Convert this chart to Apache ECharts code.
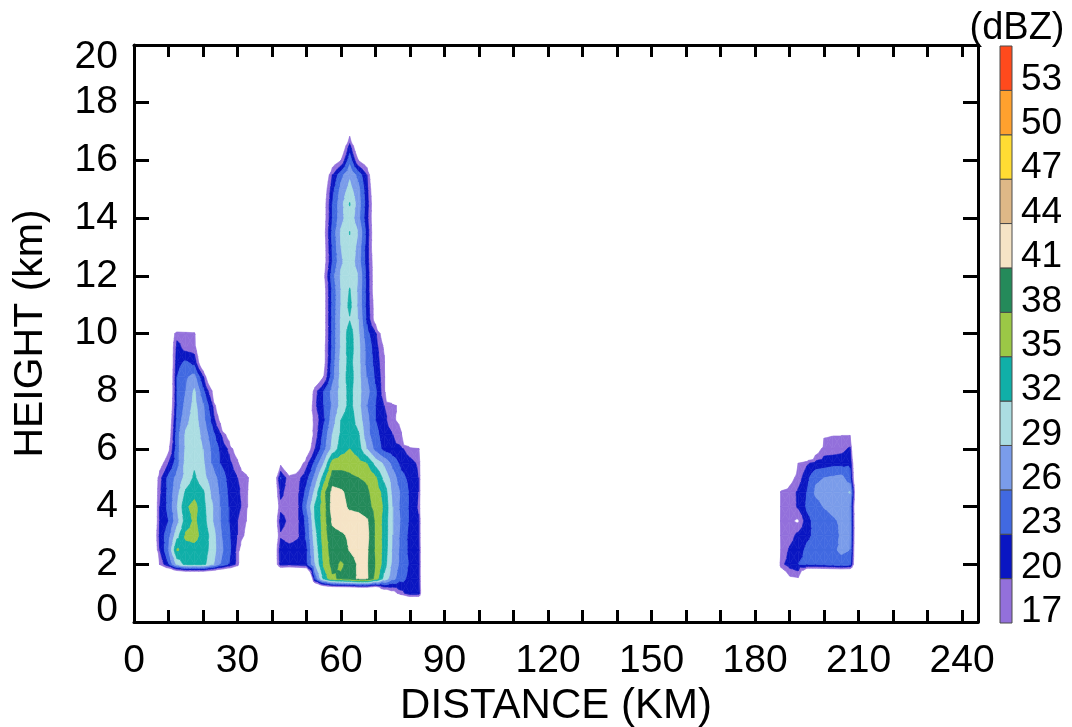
<!DOCTYPE html>
<html>
<head>
<meta charset="utf-8">
<script src="https://cdn.jsdelivr.net/npm/echarts@6/dist/echarts.min.js"></script>
<style>
  html, body { margin: 0; padding: 0; background: #ffffff; }
  #chart { width: 1072px; height: 727px; }
</style>
</head>
<body>
<div id="chart"></div>
<script>
// Reflectivity band edges (dBZ) and the colour of each band
const levels = [17, 20, 23, 26, 29, 32, 35, 38, 41, 44, 47, 50, 53, 56];
const bandColors = ['#9370DB', '#0A16C2', '#4169E1', '#7A9CEA', '#ABDDE2', '#10AFA8',
                    '#9BC846', '#248A5A', '#F5E4C6', '#DEB887', '#FFDC33', '#FFA12E', '#FF4A1C'];

// Axis tick labels
const distanceLabels = [0, 30, 60, 90, 120, 150, 180, 210, 240];
const heightLabels = [0, 2, 4, 6, 8, 10, 12, 14, 16, 18, 20];
const dbzLabels = [17, 20, 23, 26, 29, 32, 35, 38, 41, 44, 47, 50, 53];

// Western cell: distance (km) columns, height (km) rows from top, reflectivity (dBZ)
const westDist = [5, 7.5, 10, 12.5, 15, 17.5, 20, 22.5, 25, 27.5, 30, 32.5, 35];
const westHeight = [10.5, 10, 9.5, 9, 8.5, 8, 7.5, 7, 6.5, 6, 5.5, 5, 4.5, 4, 3.5, 3, 2.5, 2, 1.5];
const westDbz = [
  [0, 0, 0, 0, 0, 0, 0, 0, 0, 0, 0, 0, 0],
  [0, 0, 12, 19, 18.5, 18, 0, 0, 0, 0, 0, 0, 0],
  [0, 0, 12, 21, 19, 18.5, 10, 0, 0, 0, 0, 0, 0],
  [0, 0, 11, 22, 23.5, 22, 12, 0, 0, 0, 0, 0, 0],
  [0, 0, 11, 23, 25.5, 27, 20.5, 10, 0, 0, 0, 0, 0],
  [0, 0, 11, 23, 26, 29.5, 24, 17.5, 0, 0, 0, 0, 0],
  [0, 0, 12, 23, 27, 30, 26.5, 21, 12, 0, 0, 0, 0],
  [0, 0, 13, 24, 28, 30.5, 27, 22.5, 16, 0, 0, 0, 0],
  [0, 0, 14, 25, 29.5, 31, 28, 24.5, 20.5, 15, 0, 0, 0],
  [0, 10, 16, 25, 29.5, 31, 29, 25.5, 22.5, 19.5, 14, 0, 0],
  [0, 15, 20, 25, 30, 31.5, 29.5, 26, 23, 21, 18, 10, 0],
  [10, 19, 24, 27, 30, 32.5, 30, 27.5, 25, 22, 20, 19, 12],
  [10, 19.5, 24, 28, 32.5, 34, 32.5, 28.5, 25.5, 22.5, 20.5, 18.5, 10],
  [10, 20, 24, 29, 34.5, 36, 33, 29.5, 26, 23, 21, 18.5, 10],
  [10, 20, 23, 28, 33.5, 35.5, 33.5, 29.5, 26, 23, 20, 17, 0],
  [10, 21, 25, 31, 35.5, 36, 34, 31, 26.5, 23.5, 20, 16, 0],
  [10, 20, 26, 35.3, 34, 34, 33.5, 31, 27, 24, 19, 10, 0],
  [0, 17.5, 23, 30, 33, 33, 33, 30, 26, 23, 19, 0, 0],
  [0, 0, 0, 0, 0, 0, 0, 0, 0, 0, 0, 0, 0]
];

// Central cell
const mainDist = [40, 42.5, 45, 47.5, 50, 52.5, 55, 57.5, 60, 62.5, 65, 67.5, 70, 72.5, 75, 77.5, 80, 82.5, 85];
const mainHeight = [17.5, 17, 16.5, 16, 15.5, 15, 14.5, 14, 13.5, 13, 12.5, 12, 11.5, 11, 10.5, 10, 9.5, 9,
                    8.5, 8, 7.5, 7, 6.5, 6, 5.5, 5, 4.5, 4, 3.5, 3, 2.5, 2, 1.5, 1, 0.5];
const mainDbz = [
  [0, 0, 0, 0, 0, 0, 0, 0, 0, 0, 0, 0, 0, 0, 0, 0, 0, 0, 0],
  [0, 0, 0, 0, 0, 0, 0, 0, 0, 15, 0, 0, 0, 0, 0, 0, 0, 0, 0],
  [0, 0, 0, 0, 0, 0, 0, 0, 12, 21, 12, 0, 0, 0, 0, 0, 0, 0, 0],
  [0, 0, 0, 0, 0, 0, 0, 14, 17, 25, 17, 14, 0, 0, 0, 0, 0, 0, 0],
  [0, 0, 0, 0, 0, 0, 12, 20, 25, 28.5, 25, 20, 10, 0, 0, 0, 0, 0, 0],
  [0, 0, 0, 0, 0, 0, 14, 22, 27, 30, 27, 21, 12, 0, 0, 0, 0, 0, 0],
  [0, 0, 0, 0, 0, 0, 15, 23, 28, 32.2, 27.5, 21.5, 13, 0, 0, 0, 0, 0, 0],
  [0, 0, 0, 0, 0, 0, 15, 23, 28, 31, 27, 21, 13, 0, 0, 0, 0, 0, 0],
  [0, 0, 0, 0, 0, 0, 15.5, 24, 29.5, 32.1, 29, 22, 13, 0, 0, 0, 0, 0, 0],
  [0, 0, 0, 0, 0, 0, 15, 23.5, 29, 31.5, 28, 21.5, 13, 0, 0, 0, 0, 0, 0],
  [0, 0, 0, 0, 0, 0, 15, 23, 28.5, 31, 27.5, 21.5, 14, 0, 0, 0, 0, 0, 0],
  [0, 0, 0, 0, 0, 0, 16, 25, 29.5, 31, 29, 22, 14, 0, 0, 0, 0, 0, 0],
  [0, 0, 0, 0, 0, 0, 15, 24, 29, 32.2, 28.5, 22, 14, 0, 0, 0, 0, 0, 0],
  [0, 0, 0, 0, 0, 0, 15, 24, 29, 32.8, 28.5, 22, 15, 0, 0, 0, 0, 0, 0],
  [0, 0, 0, 0, 0, 0, 15, 24, 29.5, 31.8, 29, 22.5, 15, 0, 0, 0, 0, 0, 0],
  [0, 0, 0, 0, 0, 0, 15, 24, 29.5, 33.5, 29.5, 24, 20.5, 14, 0, 0, 0, 0, 0],
  [0, 0, 0, 0, 0, 0, 15.5, 24, 29.5, 33.5, 30, 25, 21.5, 16.5, 0, 0, 0, 0, 0],
  [0, 0, 0, 0, 0, 0, 15.5, 24.5, 30, 33, 30, 25, 22, 17.5, 0, 0, 0, 0, 0],
  [0, 0, 0, 0, 0, 12, 17, 25, 30, 33.5, 30, 26, 22.5, 18, 0, 0, 0, 0, 0],
  [0, 0, 0, 0, 10, 19, 23, 27, 30, 33, 30, 27, 23.5, 18, 0, 0, 0, 0, 0],
  [0, 0, 0, 0, 12, 19.5, 23, 26.5, 30, 33, 30, 26, 23, 20, 18.5, 15, 0, 0, 0],
  [0, 0, 0, 0, 14, 18, 22.5, 27.5, 32, 34, 30.5, 27, 23, 21, 17.5, 16, 0, 0, 0],
  [0, 0, 0, 0, 12, 18.5, 24, 29, 32.5, 34, 32.5, 27, 24, 21.5, 20, 17.2, 0, 0, 0],
  [0, 0, 0, 0, 14, 20, 25, 30, 33.5, 35, 33.5, 29, 25, 22, 21, 20.5, 18.5, 17.5, 0],
  [0, 16, 10, 14, 19, 24, 29, 36.5, 37, 37, 36, 35, 31, 28.5, 25, 22, 21, 19.5, 0],
  [10, 23.2, 18, 19, 22, 27, 33.5, 39.5, 39, 38.5, 38, 37.5, 35.5, 31, 27.5, 24, 22, 20, 0],
  [10, 21, 18, 19.5, 24, 30, 37, 42, 41.5, 40, 39.5, 38.5, 36.5, 34, 28, 25.5, 22.5, 20, 0],
  [10, 19, 18.5, 19.5, 26, 32.5, 36.5, 42.5, 42, 40.5, 40, 39, 37, 34.5, 29, 25, 22.5, 19.5, 0],
  [10, 21.5, 19, 19.5, 24, 32, 36.5, 41.5, 42.5, 42.5, 42.5, 41.5, 37.5, 34, 29, 25.5, 22.5, 20.5, 0],
  [10, 19.5, 18, 19.5, 23.5, 31, 36.5, 40, 40.5, 41.5, 42.5, 42, 37.5, 34, 29, 25, 22, 20.5, 0],
  [10, 22, 21.5, 21.5, 22.5, 30, 36, 39.5, 39.5, 41.2, 42.5, 41.5, 37.5, 34, 28.5, 25, 22, 21, 0],
  [10, 21.5, 21, 21.5, 22.5, 29, 35.5, 39, 37.5, 39, 41.5, 41.3, 38, 33.5, 28, 25, 22.5, 21, 0],
  [0, 0, 0, 0, 0, 24, 33, 37.5, 38.5, 39.5, 41.5, 41.5, 37, 31, 27, 24, 22, 21, 0],
  [0, 0, 0, 0, 0, 0, 0, 0, 0, 0, 0, 0, 0, 12, 15, 19, 22, 22, 0],
  [0, 0, 0, 0, 0, 0, 0, 0, 0, 0, 0, 0, 0, 0, 0, 0, 0, 0, 0]
];

// Eastern cell
const eastDist = [185, 187.5, 190, 192.5, 195, 197.5, 200, 202.5, 205, 207.5, 210, 212.5];
const eastHeight = [7, 6.5, 6, 5.5, 5, 4.5, 4, 3.5, 3, 2.5, 2, 1.5, 1];
const eastDbz = [
  [0, 0, 0, 0, 0, 0, 0, 0, 0, 0, 0, 0],
  [0, 0, 0, 0, 0, 0, 16.5, 16.8, 16.8, 16.8, 0, 0],
  [0, 0, 0, 0, 0, 14, 18.5, 18.5, 19, 20.5, 0, 0],
  [0, 0, 10, 17, 19.5, 21, 21.5, 22, 22, 22.5, 6, 0],
  [0, 10, 15, 18.5, 22, 25.5, 26, 26.5, 27, 24, 6, 0],
  [0, 17.5, 18.5, 20.5, 23, 26.5, 27, 27, 28, 29.2, 6, 0],
  [0, 17.5, 18, 20.5, 23.5, 25, 26.2, 27, 27.5, 26.5, 6, 0],
  [0, 18, 17.5, 16.5, 22, 24, 24.5, 25.5, 26.5, 27, 6, 0],
  [0, 17.5, 18.5, 21, 22.5, 23.5, 24, 24.5, 26.5, 27, 6, 0],
  [0, 17, 20.5, 22, 23.5, 24, 24.5, 25.5, 26.5, 26, 6, 0],
  [0, 19, 21.5, 23, 23.5, 23.5, 24, 24.5, 25, 24.5, 6, 0],
  [0, 10, 16, 16.5, 0, 0, 0, 0, 0, 0, 0, 0],
  [0, 0, 0, 0, 0, 0, 0, 0, 0, 0, 0, 0]
];

const FONT = "'Liberation Sans', Arial, Helvetica, sans-serif";

// Clip a polygon of [x, y, dBZ] vertices against one level, with linear interpolation on edges
function clipAtLevel(pts, level, keepAbove) {
  const out = [];
  for (let i = 0; i < pts.length; i++) {
    const a = pts[i], b = pts[(i + 1) % pts.length];
    const ina = keepAbove ? a[2] >= level : a[2] < level;
    const inb = keepAbove ? b[2] >= level : b[2] < level;
    if (ina) out.push(a);
    if (ina !== inb) {
      const t = (level - a[2]) / (b[2] - a[2]);
      out.push([a[0] + t * (b[0] - a[0]), a[1] + t * (b[1] - a[1]), level]);
    }
  }
  return out;
}

// Filled-contour pieces for every grid cell: each cell is split into four triangles
// around its centre, and every triangle is cut into the reflectivity bands.
function contourCells(dist, height, dbz) {
  const cells = [];
  for (let r = 0; r < height.length - 1; r++) {
    for (let c = 0; c < dist.length - 1; c++) {
      const p1 = [dist[c], height[r], dbz[r][c]];
      const p2 = [dist[c + 1], height[r], dbz[r][c + 1]];
      const p3 = [dist[c + 1], height[r + 1], dbz[r + 1][c + 1]];
      const p4 = [dist[c], height[r + 1], dbz[r + 1][c]];
      if (Math.max(p1[2], p2[2], p3[2], p4[2]) < levels[0]) continue;
      const mid = [(p1[0] + p2[0]) / 2, (p1[1] + p4[1]) / 2, (p1[2] + p2[2] + p3[2] + p4[2]) / 4];
      const pieces = [];
      [[p1, p2, mid], [p2, p3, mid], [p3, p4, mid], [p4, p1, mid]].forEach(function (tri) {
        for (let k = 0; k < levels.length - 1; k++) {
          const above = clipAtLevel(tri, levels[k], true);
          if (above.length < 3) break;
          const band = clipAtLevel(above, levels[k + 1], false);
          if (band.length >= 3) pieces.push({ band: k, pts: band.map(q => [q[0], q[1]]) });
        }
      });
      if (pieces.length) cells.push({ x: mid[0], y: mid[1], pieces: pieces });
    }
  }
  return cells;
}

const contour = [].concat(
  contourCells(westDist, westHeight, westDbz),
  contourCells(mainDist, mainHeight, mainDbz),
  contourCells(eastDist, eastHeight, eastDbz)
);

const frameLine = { show: true, onZero: false, lineStyle: { color: '#000', width: 3 } };
const labelText = { color: '#000', fontFamily: FONT, fontSize: 39 };

const chart = echarts.init(document.getElementById('chart'), null, { renderer: 'canvas' });
chart.setOption({
  animation: false,
  backgroundColor: '#ffffff',
  grid: [
    { left: 134, top: 45, width: 844, height: 577, containLabel: false, outerBoundsMode: 'none' },
    { left: 1000, top: 46, width: 12, height: 577, containLabel: false, outerBoundsMode: 'none' }
  ],
  xAxis: [
    {
      type: 'value', gridIndex: 0, position: 'bottom', min: 0, max: 244.6, interval: 10,
      axisLine: frameLine,
      axisTick: { show: true, inside: true, length: 12, lineStyle: { color: '#000', width: 3 } },
      axisLabel: Object.assign({
        margin: 20, showMinLabel: true, hideOverlap: false,
        formatter: v => distanceLabels.indexOf(v) >= 0 ? String(v) : ''
      }, labelText),
      splitLine: { show: false },
      name: 'DISTANCE (KM)', nameLocation: 'middle', nameGap: 57,
      nameTextStyle: { color: '#000', fontFamily: FONT, fontSize: 42 }
    },
    {
      type: 'value', gridIndex: 0, position: 'top', min: 0, max: 244.6, interval: 10,
      axisLine: frameLine,
      axisTick: { show: true, inside: true, length: 12, lineStyle: { color: '#000', width: 3 } },
      axisLabel: { show: false }, splitLine: { show: false }
    },
    { type: 'value', gridIndex: 1, min: 0, max: 1, show: false }
  ],
  yAxis: [
    {
      type: 'value', gridIndex: 0, position: 'left', min: 0, max: 20, interval: 2,
      axisLine: frameLine,
      axisTick: { show: true, inside: true, length: 15, lineStyle: { color: '#000', width: 3 } },
      axisLabel: Object.assign({
        margin: 16, showMinLabel: true, showMaxLabel: true, hideOverlap: false, lineHeight: 24,
        // end labels sit just inside the frame
        formatter: v => v === heightLabels[0] ? v + '\n'
          : v === heightLabels[heightLabels.length - 1] ? '\n' + v
          : (heightLabels.indexOf(v) >= 0 ? String(v) : '')
      }, labelText),
      splitLine: { show: false },
      name: 'HEIGHT (km)', nameLocation: 'middle', nameGap: 83, nameRotate: 90,
      nameTextStyle: { color: '#000', fontFamily: FONT, fontSize: 41 }
    },
    {
      type: 'value', gridIndex: 0, position: 'right', min: 0, max: 20, interval: 2,
      axisLine: frameLine,
      axisTick: { show: true, inside: true, length: 15, lineStyle: { color: '#000', width: 3 } },
      axisLabel: { show: false }, splitLine: { show: false }
    },
    {
      type: 'value', gridIndex: 1, position: 'right', min: 17, max: 56, interval: 3,
      axisLine: { show: false }, axisTick: { show: false }, splitLine: { show: false },
      axisLabel: {
        // each value sits just above its band edge
        margin: 9, color: '#000', fontFamily: FONT, fontSize: 37,
        verticalAlign: 'bottom', lineHeight: 22,
        showMinLabel: true, hideOverlap: false,
        formatter: v => dbzLabels.indexOf(v) >= 0 ? String(v) : ''
      },
      name: '(dBZ)', nameLocation: 'end', nameGap: -2,
      nameTextStyle: { color: '#000', fontFamily: FONT, fontSize: 38, padding: [0, 0, 0, 34] }
    }
  ],
  series: [
    {
      // filled reflectivity contours
      type: 'custom', xAxisIndex: 0, yAxisIndex: 0, clip: true, silent: true,
      data: contour.map((cell, i) => [cell.x, cell.y, i]),
      encode: { x: 0, y: 1 },
      renderItem: function (params, api) {
        const cell = contour[api.value(2)];
        return {
          type: 'group',
          children: cell.pieces.map(p => ({
            type: 'polygon',
            shape: { points: p.pts.map(q => api.coord(q)) },
            style: { fill: bandColors[p.band], stroke: bandColors[p.band], lineWidth: 0.6 }
          }))
        };
      }
    },
    {
      // colour key
      type: 'custom', xAxisIndex: 2, yAxisIndex: 2, silent: true,
      data: bandColors.map((c, k) => [levels[k], levels[k + 1], k]),
      encode: { y: [0, 1] },
      renderItem: function (params, api) {
        const lo = api.coord([0, api.value(0)]);
        const hi = api.coord([1, api.value(1)]);
        return {
          type: 'rect',
          shape: { x: lo[0], y: hi[1], width: hi[0] - lo[0], height: lo[1] - hi[1] },
          style: { fill: bandColors[api.value(2)], stroke: '#4a4a4a', lineWidth: 1 }
        };
      }
    }
  ]
});
</script>
</body>
</html>
